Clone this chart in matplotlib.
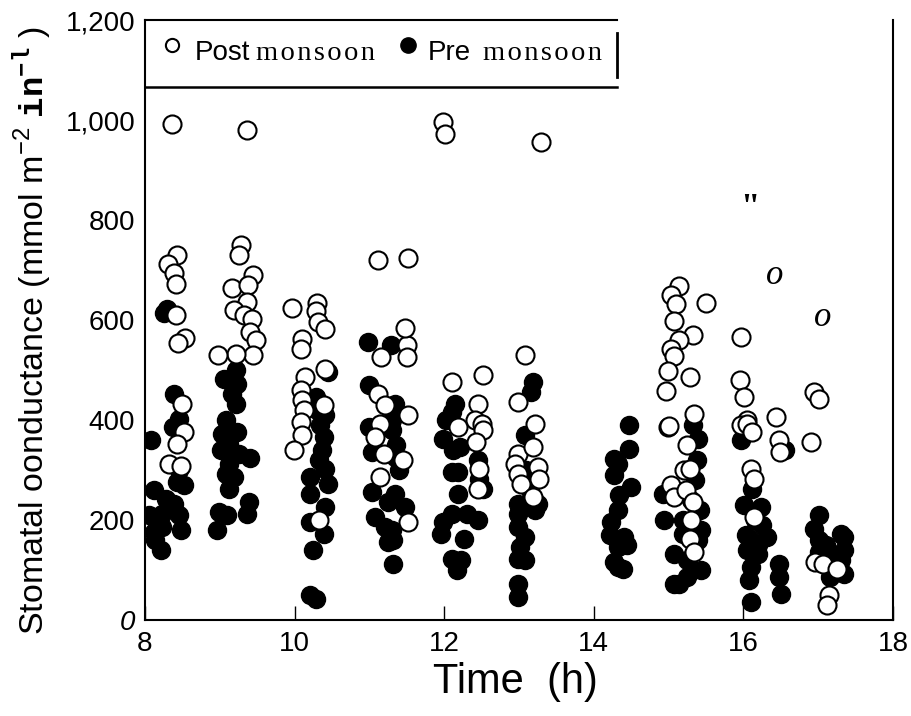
import matplotlib
matplotlib.use("Agg")
import matplotlib.pyplot as plt
from matplotlib.ticker import FixedLocator

plt.rcParams["font.family"] = ["Liberation Sans", "DejaVu Sans"]
plt.rcParams["mathtext.fontset"] = "custom"
plt.rcParams["mathtext.rm"] = "Liberation Sans"
plt.rcParams["mathtext.sf"] = "Liberation Sans"
plt.rcParams["mathtext.tt"] = "Liberation Mono:bold"

SERIF = ["Liberation Serif", "DejaVu Serif"]

# -----------------------
# Data
# -----------------------
post_time = [
    8.36, 8.43, 8.31, 8.39, 8.41, 8.41, 8.54, 8.44, 8.50, 8.52, 8.43, 8.32, 8.48,
    9.37, 9.28, 9.26, 9.45, 9.16, 9.38, 9.36, 9.19, 9.32, 9.43, 9.41, 9.48, 9.45, 9.22, 8.98,
    9.96, 10.30, 10.28, 10.31, 10.41, 10.10, 10.08, 10.14, 10.41, 10.08, 10.10, 10.12, 10.39,
    10.08, 10.10, 9.99, 10.32,
    11.11, 11.51, 11.50, 11.47, 11.16, 11.50, 11.12, 11.21, 11.52, 11.14, 11.08, 11.19,
    11.45, 11.14, 11.52,
    11.99, 12.01, 12.10, 12.52, 12.45, 12.41, 12.50, 12.52, 12.43, 12.19, 12.47, 12.45,
    13.29, 13.08, 12.99, 13.21, 12.99, 13.19, 12.94, 13.25, 12.98, 13.27, 13.03, 13.19,
    15.14, 15.03, 15.10, 15.50, 15.07, 15.32, 15.14, 15.03, 15.07, 14.99, 15.29, 14.96,
    14.99, 15.34, 15.01, 15.25, 15.21, 15.28, 15.03, 15.07, 15.23, 15.32, 15.30, 15.28, 15.34,
    15.97, 15.95, 16.01, 16.05, 16.43, 15.97, 16.05, 16.12, 16.47, 16.49, 16.10, 16.14, 16.14,
    16.94, 17.01, 16.91, 16.96, 17.07, 17.25, 17.14, 17.12,
]
post_gs = [
    993, 731, 712, 695, 673, 611, 565, 555, 433, 377, 353, 312, 308,
    980, 751, 731, 691, 665, 670, 637, 621, 610, 603, 577, 560, 530, 533, 530,
    625, 635, 619, 597, 583, 563, 543, 487, 503, 460, 440, 420, 430,
    397, 370, 341, 200,
    721, 725, 550, 585, 527, 527, 453, 430, 410, 393, 367, 333,
    320, 287, 197,
    997, 973, 477, 490, 433, 400, 393, 380, 357, 387, 303, 263,
    957, 530, 437, 393, 333, 347, 313, 307, 293, 283, 273, 247,
    668, 650, 632, 635, 598, 571, 560, 543, 529, 499, 487, 459,
    387, 413, 388, 350, 300, 303, 270, 247, 260, 237, 200, 163, 137,
    567, 481, 447, 400, 407, 390, 393, 377, 360, 337, 303, 283, 207,
    457, 443, 357, 117, 113, 103, 50, 30,
]

pre_time = [
    8.30, 8.25, 8.39, 8.45, 8.08, 8.37, 8.45, 8.43, 8.52, 8.12, 8.28, 8.39, 8.05, 8.23,
    8.45, 8.12, 8.23, 8.48, 8.14, 8.21,
    9.21, 9.05, 9.23, 9.16, 9.21, 9.08, 9.03, 9.23, 9.12, 9.01, 9.25, 9.41, 9.12, 9.08,
    9.19, 9.12, 8.99, 9.10, 8.96, 9.39, 9.36,
    10.45, 10.28, 10.30, 10.40, 10.34, 10.39, 10.36, 10.32, 10.41, 10.21, 10.45, 10.21,
    10.41, 10.21, 10.39, 10.25, 10.21, 10.28,
    10.98, 11.29, 10.99, 11.34, 10.99, 11.30, 11.03, 11.30, 11.35, 11.34, 11.39, 11.03,
    11.34, 11.25, 11.47, 11.08, 11.21, 11.30, 11.25, 11.32, 11.32,
    12.14, 12.10, 12.03, 11.99, 12.12, 12.21, 12.45, 12.10, 12.19, 12.47, 12.52, 12.19,
    11.99, 12.10, 12.30, 12.45, 11.96, 12.27, 12.10, 12.23, 12.17,
    13.19, 13.16, 13.08, 13.10, 13.15, 12.99, 13.25, 12.98, 13.21, 12.99, 13.08, 13.01,
    12.99, 13.08, 12.98, 12.99,
    14.47, 14.47, 14.27, 14.33, 14.27, 14.50, 14.34, 14.32, 14.23, 14.21, 14.41, 14.32,
    14.45, 14.27, 14.39, 14.32,
    15.32, 15.39, 15.38, 15.35, 14.92, 15.30, 15.42, 14.94, 15.19, 15.43, 15.19, 15.39,
    15.07, 15.25, 15.43, 15.24, 15.07, 15.14,
    15.97, 16.55, 16.12, 16.01, 16.23, 16.15, 16.25, 16.03, 16.32, 16.10, 16.20, 16.05,
    16.19, 16.10, 16.07, 16.48, 16.48, 16.50, 16.10,
    17.01, 16.94, 17.30, 17.34, 17.01, 17.10, 17.34, 17.01, 17.20, 17.30, 17.16, 17.34,
]
pre_gs = [
    623, 615, 453, 403, 360, 387, 300, 277, 270, 260, 243, 233, 210, 213,
    210, 177, 187, 180, 160, 140,
    500, 483, 473, 453, 433, 400, 373, 377, 353, 340, 333, 325, 313, 293,
    287, 263, 217, 210, 180, 237, 213,
    497, 447, 420, 410, 390, 367, 340, 320, 303, 287, 273, 253,
    227, 197, 173, 140, 50, 43,
    557, 550, 470, 433, 387, 400, 337, 380, 350, 327, 300, 257,
    253, 237, 227, 207, 187, 180, 157, 160, 113,
    433, 417, 400, 363, 340, 347, 320, 297, 297, 283, 263, 253,
    197, 213, 213, 200, 173, 163, 123, 120, 100,
    477, 457, 370, 300, 260, 233, 233, 213, 220, 187, 167, 147,
    123, 120, 73, 47,
    390, 343, 323, 313, 290, 267, 250, 220, 197, 170, 167, 147,
    150, 117, 103, 107,
    390, 363, 320, 280, 253, 240, 220, 200, 200, 180, 173, 160,
    133, 120, 100, 87, 73, 73,
    360, 340, 263, 230, 227, 200, 190, 170, 167, 160, 150, 140,
    133, 107, 80, 113, 87, 53, 37,
    210, 183, 173, 167, 160, 150, 140, 137, 130, 120, 87, 93,
]

y_ticks = [0, 200, 400, 600, 800, 1000, 1200]
y_tick_labels = ["0", "200", "400", "600", "800", "1,000", "1,200"]
x_ticks = [8, 10, 12, 14, 16, 18]

# stray characters left over in the scanned figure
stray_marks = [('"', 16.08, 820, "normal", "bold"),
               ("o", 16.42, 690, "italic", "normal"),
               ("o", 17.06, 605, "italic", "normal")]

# -----------------------
# Plot
# -----------------------
fig = plt.figure(figsize=(9.12, 7.16), dpi=100)
ax = fig.add_axes([145 / 912, 96 / 716, 748 / 912, 600 / 716])

ax.plot(pre_time, pre_gs, "o", ls="none", ms=13, mfc="black", mec="black",
        mew=1.0, zorder=3)
ax.plot(post_time, post_gs, "o", ls="none", ms=13, mfc="white", mec="black",
        mew=1.5, zorder=4)

ax.set_xlim(8, 18)
ax.set_ylim(0, 1200)
ax.set_xticks(x_ticks)
ax.set_yticks(y_ticks, y_tick_labels)
ax.get_yticklabels()[0].set_fontstyle("italic")
ax.yaxis.set_minor_locator(FixedLocator([400, 600]))

ax.tick_params(axis="x", direction="in", length=10, width=1, labelsize=20, pad=8)
ax.tick_params(axis="y", which="major", length=0, labelsize=20, pad=7)
ax.tick_params(axis="y", which="minor", direction="in", length=12, width=1.2)

for side in ["left", "bottom", "right"]:
    ax.spines[side].set_linewidth(1.5)
ax.spines["top"].set_visible(False)

ax.set_xlabel("Time  (h)", fontsize=30)
ax.xaxis.set_label_coords(0.495, -0.07)
ax.set_ylabel(r"Stomatal oonductance (mmol m$^{\mathsf{-2}}$ $\mathtt{in}^{\mathtt{-l}}$ )",
              fontsize=24.5)
ax.yaxis.set_label_coords(-0.122, 0.483)

# legend box in the upper-left corner
box_right = 0.631
ax.plot([0, box_right], [1, 1], color="black", lw=1.5, transform=ax.transAxes, clip_on=False)
ax.plot([0, box_right], [0.889, 0.889], color="black", lw=1.8, transform=ax.transAxes, clip_on=False)
ax.plot([box_right, box_right], [0.905, 0.978], color="black", lw=2, transform=ax.transAxes, clip_on=False)

ax.plot([0.036], [0.958], "o", ms=9.5, mfc="white", mec="black", mew=1.5,
        transform=ax.transAxes, clip_on=False)
ax.text(0.067, 0.945, "Post", fontsize=20, va="center", transform=ax.transAxes)
ax.text(0.148, 0.945, "\u200a".join("monsoon"), fontsize=20.5, va="center",
        family=SERIF, transform=ax.transAxes)
ax.plot([0.352], [0.958], "o", ms=11, mfc="black", mec="black",
        transform=ax.transAxes, clip_on=False)
ax.text(0.378, 0.945, "Pre", fontsize=20, va="center", transform=ax.transAxes)
ax.text(0.452, 0.945, "\u200a".join("monsoon"), fontsize=20.5, va="center",
        family=SERIF, transform=ax.transAxes)

for s, x, y, style, weight in stray_marks:
    ax.text(x, y, s, fontsize=25, ha="center", va="center", fontstyle=style,
            fontweight=weight, family=SERIF)

fig.savefig("out.png", dpi=100)
